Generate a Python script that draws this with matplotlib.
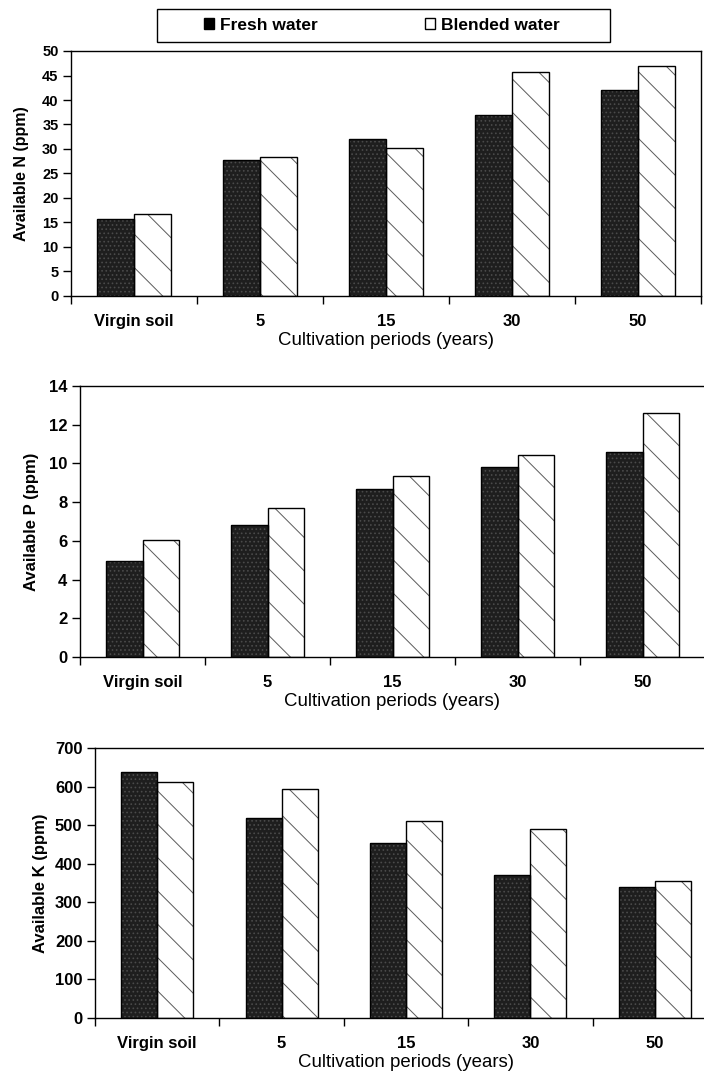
import numpy as np
import matplotlib
matplotlib.use("Agg")
import matplotlib.pyplot as plt
from matplotlib.patches import Patch, Rectangle

plt.rcParams['font.family'] = ['Liberation Sans', 'DejaVu Sans']
plt.rcParams['hatch.linewidth'] = 0.7

categories = ["Virgin soil", "5", "15", "30", "50"]
series_names = ["Fresh water", "Blended water"]

n_fresh = [15.8, 27.7, 32.0, 37.0, 42.0]
n_blended = [16.8, 28.3, 30.2, 45.8, 47.0]

p_fresh = [4.95, 6.8, 8.7, 9.8, 10.6]
p_blended = [6.05, 7.7, 9.35, 10.45, 12.6]

k_fresh = [637, 518, 455, 372, 340]
k_blended = [612, 595, 512, 490, 355]

y_labels = ["Available N (ppm)", "Available P (ppm)", "Available K (ppm)"]
x_title = "Cultivation periods (years)"
y_limits = [(0, 50), (0, 14), (0, 700)]
y_ticks = [np.arange(0, 51, 5), np.arange(0, 15, 2), np.arange(0, 701, 100)]

W, H = 704, 1077
fig = plt.figure(figsize=(W / 100, H / 100), dpi=100)

def box(l, r, t, b):
    return [l / W, 1 - b / H, (r - l) / W, (b - t) / H]

positions = [box(71, 701, 51, 296), box(80, 705, 386, 657), box(95, 717, 748, 1018)]
ytick_sizes = [10.5, 12, 12]
ylabel_sizes = [11.5, 12, 12]
ylabel_pads = [9, 7, 5]

data = [(n_fresh, n_blended), (p_fresh, p_blended), (k_fresh, k_blended)]
bw = 0.29
x = np.arange(len(categories))

for i, (pos, (fresh, blended)) in enumerate(zip(positions, data)):
    ax = fig.add_axes(pos)
    # fresh water bars: dark speckled
    ax.bar(x - bw / 2, fresh, bw, color='#1e1e1e', edgecolor='#4a4a4a',
           hatch='....', linewidth=0, zorder=2)
    ax.bar(x - bw / 2, fresh, bw, fill=False, edgecolor='black', linewidth=1, zorder=3)
    # blended water bars: white with dark streaks
    ax.bar(x + bw / 2, blended, bw, color='white', edgecolor='#5a5a5a',
           hatch='\\', linewidth=0, zorder=2)
    ax.bar(x + bw / 2, blended, bw, fill=False, edgecolor='black', linewidth=1, zorder=3)

    ax.set_xlim(-0.5, len(categories) - 0.5)
    ax.set_ylim(*y_limits[i])
    ax.set_yticks(y_ticks[i])
    ax.tick_params(axis='y', direction='out', length=6, width=1, pad=3,
                   labelsize=ytick_sizes[i])
    for lab in ax.get_yticklabels():
        lab.set_fontweight('bold')
    ax.set_xticks(np.arange(-0.5, len(categories), 1))
    ax.set_xticklabels([])
    ax.tick_params(axis='x', which='major', direction='out', length=6, width=1)
    ax.set_xticks(x, minor=True)
    ax.set_xticklabels(categories, minor=True, fontsize=12, fontweight='bold')
    ax.tick_params(axis='x', which='minor', length=0, pad=13)
    ax.set_xlabel(x_title, fontsize=13.4, labelpad=2)
    ax.set_ylabel(y_labels[i], fontsize=ylabel_sizes[i], fontweight='bold',
                  labelpad=ylabel_pads[i])
    for s in ax.spines.values():
        s.set_linewidth(1)
        s.set_color('black')

# legend box
handles = [Patch(facecolor='black', edgecolor='black'),
           Patch(facecolor='white', edgecolor='black')]
fig.legend(handles, series_names, loc='center left',
           bbox_to_anchor=(204 / W, 1 - 25 / H), ncol=2, frameon=False,
           borderpad=0, borderaxespad=0, handlelength=0.6, handleheight=0.6,
           handletextpad=0.3, columnspacing=6.2,
           prop={'size': 12.5, 'weight': 'bold'})
fig.patches.append(Rectangle((157 / W, 1 - 42 / H), 453 / W, 33 / H,
                             transform=fig.transFigure, fill=False,
                             edgecolor='black', linewidth=1))

fig.savefig("out.png", dpi=100, facecolor='white')
